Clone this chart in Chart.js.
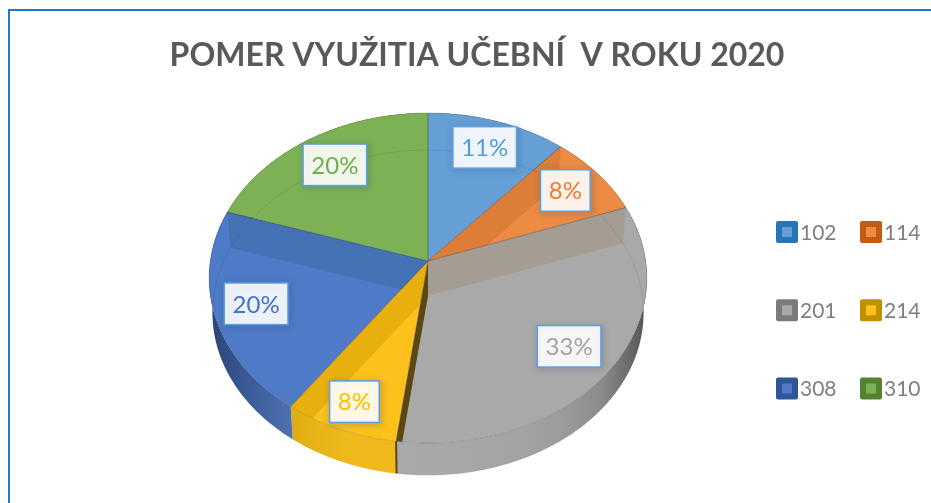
<!DOCTYPE html>
<html>
<head>
<meta charset="utf-8">
<style>
html,body{margin:0;padding:0;background:#fff;overflow:hidden}
#wrap{position:relative;width:931px;height:503px}
#frame{position:absolute;left:8px;top:9px;right:-4px;bottom:-4px;border:2px solid #1a7acb}
canvas{position:absolute;left:0;top:0}
</style>
<script src="https://cdn.jsdelivr.net/npm/chart.js@4"></script>
</head>
<body>
<div id="wrap"><div id="frame"></div><canvas id="c" width="931" height="503"></canvas></div>
<script>
const chartTitle = 'POMER VYUŽITIA UČEBNÍ  V ROKU 2020';
const categories = ['102', '114', '201', '214', '308', '310'];
const shares = [11.4, 8.1, 32.6, 7.7, 20.2, 20.0];
const faceColors = ['#659FD6', '#ED8B44', '#A9A9A9', '#FDC11B', '#4F7AC7', '#7CB156'];
const swatchColors = ['#2874B8', '#C55A11', '#7B7B7B', '#BF9000', '#2F5597', '#548235'];
const labelColors = ['#5B9BD5', '#ED7D31', '#A5A5A5', '#FFC000', '#4472C4', '#70AD47'];
const wallStops = [
  ['#4F7FB0', '#4F7FB0'], ['#B5642A', '#B5642A'],
  ['#A9A9A9', '#A8A8A8', '#A6A6A6', '#A3A3A3', '#9C9C9C', '#8A8A8A', '#585858'],
  ['#DFAE14', '#EFB91C', '#EFB91C'],
  ['#2A4676', '#3D5E9C', '#5071B2'], ['#5E8E3E', '#5E8E3E']
];
// cut-face colour of the radial edge that starts each slice
const edgeBands = [null, '#DC7D38', '#A59C94', '#5A4810', '#E8B00F', '#4472B5'];
const labelReach = [0.8, 0.8, 0.79, 0.85, 0.81, 0.775];

// perspective view of the disc
const view = {cx: 428, apexY: 261, a: 217.7, b: 163.3, k: -0.103, drop: 35, shrink: 0.985};
function project(theta, r, layer) {
  const u = r * Math.sin(theta), v = -r * Math.cos(theta), d = 1 + view.k * v;
  const s = layer ? view.shrink : 1;
  return [view.cx + view.a * u / d * s, view.apexY + view.b * v / d * s + (layer ? view.drop : 0)];
}
function rimPath(ctx, t0, t1, layer, start) {
  const n = Math.max(2, Math.ceil(Math.abs(t1 - t0) / 0.01));
  for (let i = 0; i <= n; i++) {
    const p = project(t0 + (t1 - t0) * i / n, 1, layer);
    (i === 0 && start ? ctx.moveTo : ctx.lineTo).call(ctx, p[0], p[1]);
  }
}
function slicePath(ctx, t0, t1, layer) {
  const c = project(0, 0, layer);
  ctx.beginPath();
  ctx.moveTo(c[0], c[1]);
  rimPath(ctx, t0, t1, layer, false);
  ctx.closePath();
}

const disc3d = {
  id: 'disc3d',
  beforeDatasetsDraw(chart) {
    const ctx = chart.ctx;
    const arcs = chart.getDatasetMeta(0).data;
    const spans = arcs.map(a => [a.startAngle + Math.PI / 2, a.endAngle + Math.PI / 2]);
    ctx.save();

    // outer wall
    spans.forEach((s, i) => {
      const pts = [];
      for (let t = s[0]; t <= s[1]; t += 0.02) pts.push(project(t, 1, 1)[0]);
      const lo = Math.min(...pts), hi = Math.max(...pts);
      const g = ctx.createLinearGradient(lo, 0, hi, 0);
      const stops = wallStops[i];
      stops.forEach((c, j) => g.addColorStop(j / (stops.length - 1), c));
      ctx.fillStyle = g;
      ctx.beginPath();
      rimPath(ctx, s[0], s[1], 0, true);
      rimPath(ctx, s[1], s[0], 1, false);
      ctx.closePath();
      ctx.fill();
    });
    // dark cut edge in front of the wall
    spans.forEach((s, i) => {
      if (edgeBands[i] !== '#5A4810') return;
      const p = project(s[0], 1, 0), q = project(s[0], 1, 1);
      ctx.strokeStyle = edgeBands[i];
      ctx.lineWidth = 2;
      ctx.beginPath(); ctx.moveTo(p[0], p[1]); ctx.lineTo(q[0], q[1]); ctx.stroke();
    });

    // top face
    spans.forEach((s, i) => {
      slicePath(ctx, s[0], s[1], 0);
      ctx.fillStyle = faceColors[i];
      ctx.fill();
    });

    // cut faces seen through the translucent top
    spans.forEach((s, i) => {
      ctx.save();
      slicePath(ctx, s[0], s[1], 0);
      ctx.clip();
      [i, (i + 1) % spans.length].forEach(e => {
        const band = edgeBands[e];
        if (!band) return;
        const t = spans[e][0];
        const a0 = project(t, 0, 0), a1 = project(t, 1, 0), b1 = project(t, 1, 1), b0 = project(t, 0, 1);
        ctx.fillStyle = band;
        ctx.beginPath();
        ctx.moveTo(a0[0], a0[1]); ctx.lineTo(a1[0], a1[1]); ctx.lineTo(b1[0], b1[1]); ctx.lineTo(b0[0], b0[1]);
        ctx.closePath();
        ctx.fill();
      });
      ctx.restore();
    });

    // far rim of the lower disc, faintly visible through the top
    ctx.save();
    ctx.beginPath();
    rimPath(ctx, 0, Math.PI * 2, 0, true);
    ctx.closePath();
    ctx.clip();
    ctx.strokeStyle = 'rgba(60,60,60,0.13)';
    ctx.lineWidth = 1;
    ctx.beginPath();
    rimPath(ctx, 0, Math.PI * 2, 1, true);
    ctx.stroke();
    ctx.restore();

    // slice outlines and near rim
    spans.forEach((s, i) => {
      slicePath(ctx, s[0], s[1], 0);
      ctx.strokeStyle = 'rgba(40,40,40,0.18)';
      ctx.lineWidth = 1;
      ctx.stroke();
    });

    // percentage tags
    ctx.font = '24px Lato';
    ctx.textAlign = 'center';
    ctx.textBaseline = 'middle';
    spans.forEach((s, i) => {
      const p = project((s[0] + s[1]) / 2, labelReach[i], 0);
      const text = Math.round(shares[i]) + '%';
      const w = ctx.measureText(text).width + 15, h = 40;
      ctx.save();
      ctx.shadowColor = 'rgba(40,70,110,0.4)';
      ctx.shadowBlur = 6;
      ctx.shadowOffsetX = 1.5;
      ctx.shadowOffsetY = 1.5;
      ctx.strokeStyle = '#5F9FDC';
      ctx.lineWidth = 3;
      ctx.strokeRect(p[0] - w / 2, p[1] - h / 2, w, h);
      ctx.restore();
      ctx.fillStyle = 'rgba(255,255,255,0.89)';
      ctx.fillRect(p[0] - w / 2, p[1] - h / 2, w, h);
      ctx.fillStyle = labelColors[i];
      ctx.fillText(text, p[0], p[1] + 1);
    });

    // legend, laid out row by row in two columns
    ctx.font = '21px Lato';
    ctx.textAlign = 'left';
    categories.forEach((name, i) => {
      const x = 776 + (i % 2) * 84, y = 232 + Math.floor(i / 2) * 78.25;
      ctx.fillStyle = swatchColors[i];
      ctx.beginPath();
      ctx.roundRect(x, y - 11, 22, 22, 2);
      ctx.fill();
      ctx.fillStyle = faceColors[i];
      ctx.fillRect(x + 6, y - 5, 10, 10);
      ctx.fillStyle = '#7F7F7F';
      ctx.fillText(name, x + 24, y + 1);
    });
    ctx.restore();
    return false;
  }
};

new Chart(document.getElementById('c'), {
  type: 'pie',
  data: {
    labels: categories,
    datasets: [{data: shares, backgroundColor: faceColors, borderWidth: 0}]
  },
  plugins: [disc3d],
  options: {
    responsive: false,
    animation: false,
    layout: {padding: {left: 23, top: 36}},
    plugins: {
      legend: {display: false},
      tooltip: {enabled: false},
      title: {
        display: true,
        text: chartTitle,
        color: '#595959',
        font: {family: 'Lato', size: 32, weight: 'bold'},
        padding: 0
      }
    }
  }
});
</script>
</body>
</html>
